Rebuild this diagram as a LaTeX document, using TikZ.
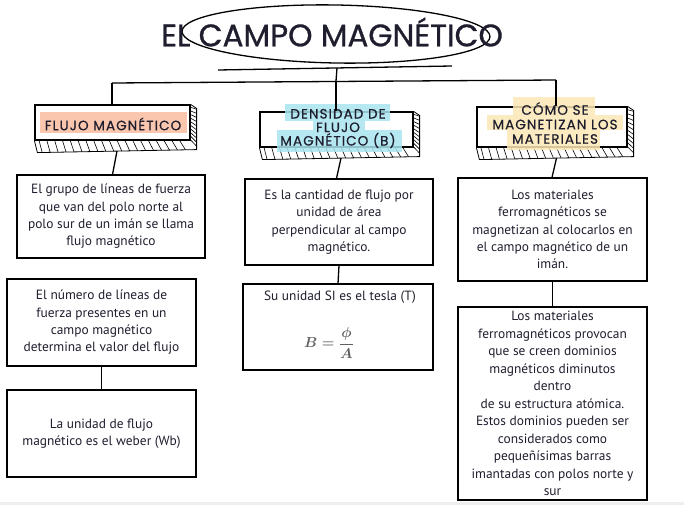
\documentclass[tikz,border=0pt]{standalone}
\usepackage{amssymb,amsmath}
\usepackage{fontspec}
\setmainfont{PT Sans}
\newfontfamily\handfont[FakeBold=0.9]{Poppins}
\newfontfamily\hdrfont[FakeBold=0.7, LetterSpace=8]{Poppins}
\usetikzlibrary{calc,positioning}
\definecolor{ink}{HTML}{1e1e2e}
\definecolor{peach}{HTML}{fac6ae}
\definecolor{cyan2}{HTML}{a9e4ee}
\definecolor{yellow2}{HTML}{fce8b5}
\definecolor{gray9}{HTML}{eeeeee}

% extruded side of a header box, hatched
\newcommand\hatchside[1]{%
  \coordinate (#1-a) at ($(#1.south west)+(3,12)$);
  \coordinate (#1-b) at ($(#1.south east)+(6,9)$);
  \coordinate (#1-c) at ($(#1.north east)+(6,4)$);
  \draw[thick] (#1.south west) -- (#1-a) -- (#1-b) -- (#1-c) -- (#1.north east);
  \foreach \t in {0.03,0.08,...,0.98}
    \draw[semithick] ($(#1.south west)!\t!(#1.south east)$) -- ($(#1-a)!\t!(#1-b)$);
  \foreach \t in {0.08,0.18,...,0.98}
    \draw[semithick] ($(#1.north east)!\t!(#1.south east)$) -- ($(#1-c)!\t-0.06!(#1-b)$);
}

\begin{document}
\begin{tikzpicture}[x=1pt, y=-1pt,
  hdr/.style={draw, line width=1.2pt, inner sep=0pt},
  hdrtext/.style={font=\hdrfont\fontsize{13.5}{13.5}\selectfont, text=ink, align=center, inner sep=0pt},
  infobox/.style={draw, line width=1.1pt, align=center, inner sep=0pt, text=ink,
    font=\fontsize{13.4}{17.3}\selectfont},
  link/.style={line width=1.3pt}]
\useasboundingbox (0,0) rectangle (684,505);
\fill[gray9] (0,502) rectangle (684,505);

% title
\draw[line width=1.3pt, rotate around={-1:(336,34)}] (336,34) ellipse [x radius=154, y radius=29];
\node[font=\handfont\fontsize{31}{34}\selectfont, text=ink, inner sep=0pt] (title) at (332,32) {EL CAMPO MAGNÉTICO};

% branches
\coordinate (ul) at (218,70);
\coordinate (ur) at (452,66);
\coordinate (um) at (337,68);
\coordinate (bl) at (112,83);
\coordinate (bm) at (336,81);
\coordinate (br) at (556,80);
\draw[link] (ul) -- (ur);
\draw[link] (um) -- (bm);
\draw[link] (bl) -- (br);

% header boxes
\node[hdr, minimum width=155, minimum height=35] (hL) at (112.5,122.5) {};
\node[hdr, minimum width=153, minimum height=35] (hM) at (336.5,129.5) {};
\node[hdr, minimum width=150, minimum height=40] (hR) at (552,127) {};
\hatchside{hL}
\hatchside{hM}
\hatchside{hR}

% highlights
\fill[peach] (40,112) rectangle (187,133);
\fill[cyan2, opacity=0.85] (285,104) rectangle (390,121);
\fill[cyan2, opacity=0.85] (313,121) rectangle (365,130);
\fill[cyan2, opacity=0.85] (277,130) rectangle (402,152);
\fill[yellow2, opacity=0.85] (513,97) rectangle (595,115);
\fill[yellow2, opacity=0.85] (487,115) rectangle (623,130);
\fill[yellow2, opacity=0.85] (507,130) rectangle (600,150);

\node[hdrtext] (hLt) at (113,124) {FLUJO MAGNÉTICO};
\node[hdrtext] (hMt) at (338,128.5) {DENSIDAD DE\\FLUJO\\MAGNÉTICO (B)};
\node[hdrtext, font=\hdrfont\fontsize{13.5}{14.5}\selectfont] (hRt) at (555,123) {CÓMO SE\\MAGNETIZAN LOS\\MATERIALES};

\draw[link] (bl) -- (hL.north -| bl);
\draw[link] (bm) -- (hM.north -| bm);
\draw[link] (br) -- (hR.north -| br);

% content boxes
\node[infobox, minimum width=188, minimum height=83] (L1) at (111,216.5)
  {El grupo de líneas de fuerza\\que van del polo norte al\\polo sur de un imán se llama\\flujo magnético};
\node[infobox, minimum width=189, minimum height=87] (L2) at (101.5,322.5)
  {El número de líneas de\\fuerza presentes en un\\campo magnético\\determina el valor del flujo};
\node[infobox, minimum width=189, minimum height=87] (L3) at (101.5,433.5)
  {La unidad de flujo\\magnético es el weber (Wb)};
\node[infobox, minimum width=188, minimum height=86] (M1) at (339,222)
  {Es la cantidad de flujo por\\unidad de área\\perpendicular al campo\\magnético.};
\node[infobox, minimum width=190, minimum height=86] (M2) at (338,327) {};
\node[text=ink, font=\fontsize{13.4}{17}\selectfont, inner sep=0pt] (M2t) at (340,297) {Su unidad SI es el tesla (T)};
\node[text=gray!75!black, inner sep=0pt, font=\fontsize{14}{16}\selectfont] (frm) at (329,343) {$\boldsymbol{B=\dfrac{\phi}{A}}$};
\node[infobox, minimum width=189, minimum height=103] (R1) at (552.5,229.5)
  {Los materiales\\ferromagnéticos se\\magnetizan al colocarlos en\\el campo magnético de un\\imán.};
\node[infobox, minimum width=189, minimum height=193, font=\fontsize{13.4}{17.5}\selectfont] (R2) at (552.5,403.5)
  {Los materiales\\ferromagnéticos provocan\\que se creen dominios\\magnéticos diminutos\\dentro\\de su estructura atómica.\\Estos dominios pueden ser\\considerados como\\pequeñísimas barras\\imantadas con polos norte y\\sur};

% connectors
\draw[link] ($(hL-a)!0.5!(hL-b)$) -- (L1.north -| hL);
\draw[link] ($(hM-a)!0.5!(hM-b)$) -- (M1.north -| hM);
\draw[link] ($(hR-a)!0.5!(hR-b)$) -- (R1.north -| hR);
\draw[link] (L2.south) -- (L3.north);
\draw[link] (M1.south) -- (M2.north);
\draw[link] (R1.south) -- (R2.north);
\end{tikzpicture}
\end{document}
